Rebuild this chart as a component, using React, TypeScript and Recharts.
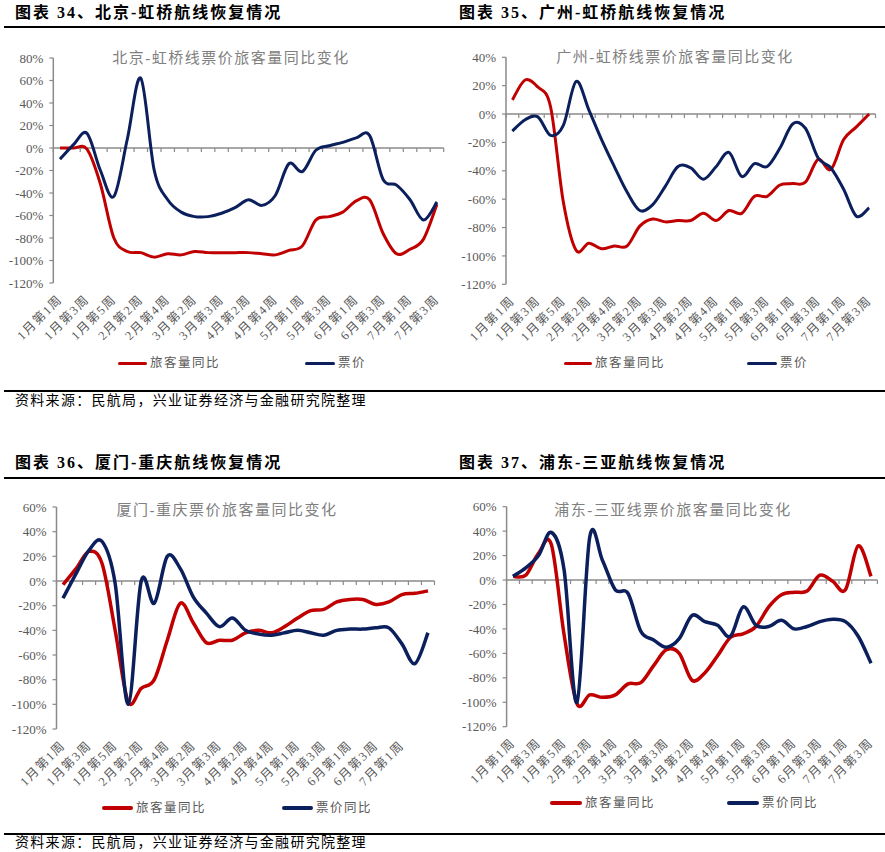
import React from 'react';
import { LineChart, Line, XAxis, YAxis, ReferenceLine } from 'recharts';

// ---------- data ----------
const weeks = [
  '1月第1周', '1月第2周', '1月第3周', '1月第4周', '1月第5周',
  '2月第1周', '2月第2周', '2月第3周', '2月第4周',
  '3月第1周', '3月第2周', '3月第2周', '3月第3周',
  '4月第1周', '4月第2周', '4月第3周', '4月第4周', '4月第5周',
  '5月第1周', '5月第2周', '5月第3周', '5月第4周',
  '6月第1周', '6月第2周', '6月第3周', '6月第4周',
  '7月第1周', '7月第2周', '7月第3周',
];

// 北京-虹桥
const bjPassenger = [0, 0, -1, -32, -80, -92, -93, -97, -94, -95, -92, -93, -93, -93, -93, -94, -95, -91, -87, -64, -61, -57, -47, -46, -76, -94, -90, -81, -50];
const bjFare = [-10, 3, 13, -20, -43, 8, 62, -20, -46, -57, -61, -61, -58, -53, -46, -51, -42, -14, -21, -2, 2, 5, 9, 11, -28, -33, -46, -64, -48];

// 广州-虹桥
const gzPassenger = [10, 24, 19, 5, -62, -96, -91, -95, -93, -93, -79, -74, -76, -75, -75, -70, -75, -68, -70, -58, -58, -50, -49, -48, -32, -39, -18, -9, 0];
const gzFare = [-12, -4, -2, -15, -8, 23, 3, -18, -37, -55, -68, -64, -51, -37, -38, -46, -37, -27, -44, -35, -37, -24, -7, -10, -31, -38, -53, -72, -66];

// 厦门-重庆
const xmPassenger = [-3, 10, 24, 14, -40, -98, -87, -80, -48, -18, -34, -50, -48, -48, -42, -40, -42, -37, -30, -24, -23, -17, -15, -15, -19, -17, -11, -10, -8];
const xmFare = [-14, 6, 25, 32, -2, -100, 0, -18, 20, 10, -13, -26, -37, -30, -40, -43, -44, -42, -40, -42, -44, -40, -39, -39, -38, -38, -51, -67, -42];

// 浦东-三亚
const pdPassenger = [3, 4, 22, 29, -45, -101, -94, -96, -94, -85, -84, -70, -57, -60, -82, -76, -62, -47, -44, -38, -22, -12, -10, -9, 4, -1, -8, 28, 3];
const pdFare = [3, 10, 20, 39, 8, -100, 35, 16, -8, -11, -42, -49, -55, -48, -29, -34, -37, -46, -22, -37, -38, -33, -40, -38, -34, -32, -34, -46, -68];

const yTicksBJ = [-120, -100, -80, -60, -40, -20, 0, 20, 40, 60, 80];
const yTicksGZ = [-120, -100, -80, -60, -40, -20, 0, 20, 40];
const yTicks60 = [-120, -100, -80, -60, -40, -20, 0, 20, 40, 60];

// ---------- styles ----------
const RED = '#C00000';
const BLUE = '#0A1F5C';
const AXIS = '#8a8a8a';
const TEXT = '#595959';
const TITLE = '#808080';
const SERIF = '"Liberation Serif", "Noto Sans CJK SC", serif';

// Excel-like smooth curve (Catmull-Rom as cubic Bezier)
const excelSmooth = (context: any) => {
  let pts: number[][] = [];
  return {
    areaStart() {},
    areaEnd() {},
    lineStart() {
      pts = [];
    },
    point(x: number, y: number) {
      pts.push([+x, +y]);
    },
    lineEnd() {
      const n = pts.length;
      if (!n) return;
      context.moveTo(pts[0][0], pts[0][1]);
      for (let i = 0; i < n - 1; i++) {
        const p0 = pts[i - 1] || pts[i];
        const p1 = pts[i];
        const p2 = pts[i + 1];
        const p3 = pts[i + 2] || p2;
        context.bezierCurveTo(
          p1[0] + (p2[0] - p0[0]) / 6,
          p1[1] + (p2[1] - p0[1]) / 6,
          p2[0] - (p3[0] - p1[0]) / 6,
          p2[1] - (p3[1] - p1[1]) / 6,
          p2[0],
          p2[1]
        );
      }
    },
  };
};

const ZeroAxis = (props: any) => {
  const { x1, y1, x2, n } = props;
  if (x1 == null || y1 == null || x2 == null) return null;
  const step = (x2 - x1) / n;
  const ticks = [];
  for (let k = 0; k <= n; k++) {
    ticks.push(
      <line key={k} x1={x1 + k * step} x2={x1 + k * step} y1={y1} y2={y1 + 4} stroke={AXIS} strokeWidth={1.2} />
    );
  }
  return (
    <g>
      <line x1={x1} y1={y1} x2={x2} y2={y1} stroke={AXIS} strokeWidth={1.5} />
      {ticks}
    </g>
  );
};

const XTick = (props: any) => {
  const { x, y, payload, hideLast } = props;
  const idx = payload.value;
  if (hideLast && idx === weeks.length - 1) return null;
  const ax = x + 3;
  const ay = y + 17;
  return (
    <text
      x={ax}
      y={ay}
      transform={`rotate(-45 ${ax} ${ay})`}
      textAnchor="end"
      fill={TEXT}
      fontSize={12.5}
      letterSpacing={1.5}
      fontFamily={SERIF}
    >
      {weeks[idx]}
    </text>
  );
};

type PanelProps = {
  left: number;
  top: number;
  width: number;
  height: number;
  plotLeft: number;
  plotRight: number;
  plotTop: number;
  plotBottom: number;
  domain: [number, number];
  ticks: number[];
  passenger: number[];
  fare: number[];
  strokeWidth: number;
  hideLast?: boolean;
};

const Panel = (p: PanelProps) => {
  const data = weeks.map((w, i) => ({ i, week: w, passenger: p.passenger[i], fare: p.fare[i] }));
  const xh = 64;
  const hb = (p.plotRight - p.plotLeft) / weeks.length / 2;
  return (
    <div style={{ position: 'absolute', left: p.left, top: p.top }}>
      <LineChart
        width={p.width}
        height={p.height}
        data={data}
        margin={{
          top: p.plotTop,
          left: 0,
          right: p.width - p.plotRight,
          bottom: p.height - p.plotBottom - xh,
        }}
      >
        <XAxis
          dataKey="i"
          type="category"
          height={xh}
          padding={{ left: hb, right: hb }}
          axisLine={false}
          tickLine={false}
          tickSize={0}
          tickMargin={0}
          interval={1}
          tick={(tp: any) => <XTick {...tp} hideLast={p.hideLast} />}
        />
        <YAxis
          type="number"
          domain={p.domain}
          ticks={p.ticks}
          interval={0}
          width={p.plotLeft}
          tickSize={4}
          tickMargin={6}
          allowDataOverflow
          axisLine={{ stroke: AXIS, strokeWidth: 1.5 }}
          tickLine={{ stroke: AXIS, strokeWidth: 1.2 }}
          tick={{ fill: TEXT, fontSize: 13, fontFamily: SERIF }}
          tickFormatter={(v: number) => `${v}%`}
        />
        <ReferenceLine y={0} shape={(sp: any) => <ZeroAxis {...sp} n={weeks.length} />} />
        <Line
          dataKey="passenger"
          stroke={RED}
          strokeWidth={p.strokeWidth}
          dot={false}
          activeDot={false}
          type={excelSmooth as any}
          isAnimationActive={false}
        />
        <Line
          dataKey="fare"
          stroke={BLUE}
          strokeWidth={p.strokeWidth}
          dot={false}
          activeDot={false}
          type={excelSmooth as any}
          isAnimationActive={false}
        />
      </LineChart>
    </div>
  );
};

const abs = (left: number, top: number, extra: React.CSSProperties = {}): React.CSSProperties => ({
  position: 'absolute',
  left,
  top,
  whiteSpace: 'nowrap',
  ...extra,
});

const Header = ({ x, y, text }: { x: number; y: number; text: string }) => (
  <div
    style={abs(x, y - 11, {
      fontFamily: SERIF,
      fontWeight: 700,
      fontSize: 16,
      letterSpacing: 2,
      lineHeight: '22px',
      color: '#000',
    })}
  >
    {text}
  </div>
);

const ChartTitle = ({ cx, cy, text }: { cx: number; cy: number; text: string }) => (
  <div
    style={abs(cx - 150, cy - 11, {
      width: 300,
      textAlign: 'center',
      fontFamily: SERIF,
      fontSize: 15,
      letterSpacing: 1.5,
      lineHeight: '22px',
      color: TITLE,
    })}
  >
    {text}
  </div>
);

const LegendItem = ({ x1, x2, y, color, text, sw }: { x1: number; x2: number; y: number; color: string; text: string; sw: number }) => (
  <>
    <div style={abs(x1, y - sw / 2, { width: x2 - x1, height: sw, background: color, borderRadius: sw / 2 })} />
    <div
      style={abs(x2 + 3, y - 10, {
        fontFamily: SERIF,
        fontSize: 12.5,
        letterSpacing: 1.5,
        lineHeight: '20px',
        color: TEXT,
      })}
    >
      {text}
    </div>
  </>
);

const HLine = ({ x1, x2, y, w }: { x1: number; x2: number; y: number; w: number }) => (
  <div style={abs(x1, y - w / 2, { width: x2 - x1, height: w, background: '#000' })} />
);

const SourceText = ({ y }: { y: number }) => (
  <div
    style={abs(15, y - 11, {
      fontFamily: SERIF,
      fontSize: 14,
      letterSpacing: 1.3,
      lineHeight: '22px',
      color: '#000',
    })}
  >
    资料来源：民航局，兴业证券经济与金融研究院整理
  </div>
);

export default function App() {
  return (
    <div style={{ position: 'absolute', left: 0, top: 0, width: 885, height: 852, background: '#fff', overflow: 'hidden' }}>
      <Panel
        left={0}
        top={0}
        width={450}
        height={360}
        plotLeft={53.3}
        plotRight={443.7}
        plotTop={58}
        plotBottom={283}
        domain={[-120, 80]}
        ticks={yTicksBJ}
        passenger={bjPassenger}
        fare={bjFare}
        strokeWidth={3}
      />
      <Panel
        left={442}
        top={0}
        width={443}
        height={360}
        plotLeft={64}
        plotRight={433.5}
        plotTop={57.3}
        plotBottom={284.3}
        domain={[-120, 40]}
        ticks={yTicksGZ}
        passenger={gzPassenger}
        fare={gzFare}
        strokeWidth={3}
      />
      <Panel
        left={0}
        top={440}
        width={450}
        height={360}
        plotLeft={56.5}
        plotRight={434.5}
        plotTop={67}
        plotBottom={289}
        domain={[-120, 60]}
        ticks={yTicks60}
        passenger={xmPassenger}
        fare={xmFare}
        strokeWidth={3.5}
        hideLast
      />
      <Panel
        left={442}
        top={440}
        width={443}
        height={360}
        plotLeft={64.6}
        plotRight={435.4}
        plotTop={66.7}
        plotBottom={286.7}
        domain={[-120, 60]}
        ticks={yTicks60}
        passenger={pdPassenger}
        fare={pdFare}
        strokeWidth={3.5}
      />

      <Header x={15} y={13} text="图表 34、北京-虹桥航线恢复情况" />
      <Header x={459} y={13} text="图表 35、广州-虹桥航线恢复情况" />
      <Header x={15} y={463} text="图表 36、厦门-重庆航线恢复情况" />
      <Header x={459} y={463} text="图表 37、浦东-三亚航线恢复情况" />

      <HLine x1={4} x2={885} y={27} w={1.5} />
      <HLine x1={4} x2={885} y={478} w={1.5} />
      <HLine x1={4} x2={885} y={391} w={1.2} />
      <HLine x1={4} x2={885} y={834} w={1.2} />

      <ChartTitle cx={231} cy={58} text="北京-虹桥线票价旅客量同比变化" />
      <ChartTitle cx={675} cy={57} text="广州-虹桥线票价旅客量同比变化" />
      <ChartTitle cx={227} cy={510} text="厦门-重庆票价旅客量同比变化" />
      <ChartTitle cx={673} cy={510} text="浦东-三亚线票价旅客量同比变化" />

      <LegendItem x1={118} x2={147} y={363} color={RED} text="旅客量同比" sw={3} />
      <LegendItem x1={305} x2={335} y={363} color={BLUE} text="票价" sw={3} />
      <LegendItem x1={564} x2={592} y={363} color={RED} text="旅客量同比" sw={3} />
      <LegendItem x1={747} x2={777} y={363} color={BLUE} text="票价" sw={3} />
      <LegendItem x1={102} x2={133} y={808} color={RED} text="旅客量同比" sw={4} />
      <LegendItem x1={282} x2={313} y={808} color={BLUE} text="票价同比" sw={4} />
      <LegendItem x1={550} x2={582} y={803} color={RED} text="旅客量同比" sw={4} />
      <LegendItem x1={727} x2={759} y={803} color={BLUE} text="票价同比" sw={4} />

      <SourceText y={401} />
      <SourceText y={843} />
    </div>
  );
}
